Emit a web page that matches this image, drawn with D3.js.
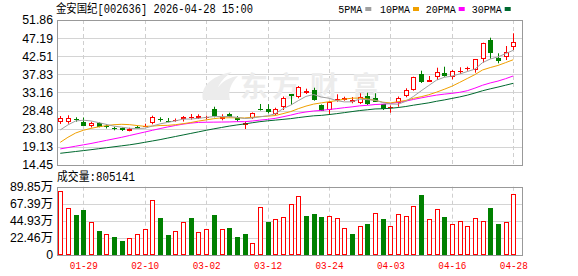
<!DOCTYPE html>
<html><head><meta charset="utf-8">
<script src="https://cdn.jsdelivr.net/npm/d3@7"></script>
<style>body{margin:0;background:#fff}svg{display:block}</style>
</head><body><svg id="c" width="578" height="276"></svg>
<script>
const dates = ["01-26","01-27","01-28","01-29","01-30","02-02","02-03","02-04","02-05","02-06",
"02-09","02-10","02-11","02-12","02-13","02-24","02-25","02-26","02-27","03-02",
"03-03","03-04","03-05","03-06","03-09","03-10","03-11","03-12","03-13","03-16",
"03-17","03-18","03-19","03-20","03-23","03-24","03-25","03-26","03-27","03-30",
"03-31","04-01","04-02","04-03","04-07","04-08","04-09","04-10","04-13","04-14",
"04-15","04-16","04-17","04-20","04-21","04-22","04-23","04-24","04-27","04-28"];
const open = [25.42,25.47,26.32,25.54,24.64,25.16,24.51,24.05,23.87,23.22,24.25,24.38,25.21,26.32,25.72,25.93,26.24,26.71,26.50,26.58,28.82,26.24,27.61,26.65,24.69,26.58,28.90,28.77,27.69,29.34,32.69,31.99,32.95,33.80,29.93,28.64,31.22,31.22,30.70,30.32,32.25,31.61,30.06,29.29,30.45,32.38,33.80,37.85,35.99,37.08,38.26,37.08,38.44,39.30,38.96,41.72,46.70,42.13,42.39,44.97];
const high = [27.09,27.27,26.76,26.71,25.62,25.47,24.95,24.33,24.13,24.07,24.51,25.11,27.17,26.76,26.58,26.45,27.09,27.61,27.53,27.17,29.49,27.53,27.94,27.09,25.62,28.00,30.19,30.14,29.23,32.12,32.77,34.83,34.14,34.39,30.06,30.88,32.69,32.07,31.99,32.95,33.10,32.95,30.19,29.80,32.12,34.24,37.23,38.78,37.41,39.55,39.81,38.96,39.66,39.81,41.80,46.00,47.29,43.27,45.15,48.43];
const low = [25.03,25.11,25.62,24.51,24.13,24.18,23.87,23.40,23.22,23.14,23.82,24.25,24.95,25.62,25.49,25.62,25.67,26.14,26.32,26.24,26.76,25.98,26.76,25.62,23.74,26.32,28.51,27.79,27.27,28.64,29.93,31.66,32.77,31.04,28.38,27.53,30.78,31.04,30.37,30.19,29.93,30.70,28.64,27.94,29.49,31.92,33.62,35.61,35.94,36.38,37.23,36.56,37.93,38.78,38.26,40.84,41.88,40.69,41.54,44.12];
const close = [26.45,26.65,26.14,24.64,25.21,24.33,24.31,23.87,23.40,23.66,24.10,24.64,26.76,26.16,25.57,26.06,26.91,26.83,27.09,26.76,27.17,26.91,26.83,26.06,25.21,27.79,28.56,28.00,28.82,31.66,32.33,34.50,33.46,31.22,28.46,30.78,31.40,31.81,31.30,31.92,30.06,30.78,28.77,29.41,31.66,33.80,37.08,35.94,36.38,38.52,37.41,38.70,38.62,39.48,41.72,45.85,43.27,41.36,43.68,46.11];
// volume in 万 (10k)
const volume = [84.2,61.8,52.6,59.2,43.0,31.6,27.2,23.7,18.4,22.0,27.2,33.8,72.4,48.7,26.3,31.6,43.4,48.7,29.9,34.2,52.6,33.8,35.5,23.7,27.6,15.4,62.7,43.4,47.4,49.6,67.1,77.2,51.3,53.9,50.0,50.9,48.7,35.5,27.6,37.7,40.8,54.8,47.4,37.7,53.5,50.9,64.1,78.9,47.0,60.5,50.0,40.4,44.3,38.1,48.7,44.3,61.8,40.8,43.0,80.51];
const volUp = [1,1,0,0,1,0,1,0,0,1, 1,1,1,0,0,1,1,0,1,1, 0,1,0,0,0,1,1,0,1,1, 1,1,0,0,0,1,1,1,0,1, 0,1,0,1,1,1,1,0,1,1, 0,1,1,1,1,1,0,0,1,1];
const ma5 = [23.5,24.8,25.8,26.0,25.82,25.39,24.93,24.47,24.22,23.91,23.87,23.93,24.51,25.06,25.45,25.84,26.29,26.31,26.49,26.73,26.95,26.95,26.95,26.75,26.44,26.56,26.89,27.12,27.68,28.97,29.87,31.06,32.15,32.63,31.99,31.68,31.06,30.73,30.75,31.44,31.30,31.17,30.57,30.19,30.14,30.88,32.14,33.58,34.97,36.34,37.07,37.39,37.93,38.55,39.19,40.87,41.79,42.34,43.18,44.05];
const ma10 = [20.3,21.6,22.7,23.4,23.9,24.3,24.6,24.85,24.95,24.87,24.63,24.43,24.49,24.64,24.68,24.85,25.11,25.41,25.78,26.09,26.40,26.62,26.63,26.62,26.58,26.76,26.92,27.04,27.21,27.70,28.22,28.98,29.64,30.16,30.48,30.78,31.06,31.44,31.69,31.72,31.49,31.12,30.65,30.47,30.79,31.09,31.66,32.07,32.58,33.24,33.98,34.77,35.75,36.76,37.77,38.97,39.59,40.13,40.86,41.62];
const ma20 = [18.6,18.95,19.3,19.65,20.0,20.4,20.8,21.2,21.6,22.05,22.5,22.95,23.4,23.85,24.27,24.65,24.99,25.25,25.44,25.48,25.51,25.53,25.56,25.63,25.63,25.80,26.02,26.22,26.49,26.89,27.31,27.80,28.13,28.39,28.53,28.77,28.99,29.24,29.45,29.71,29.85,30.05,30.14,30.31,30.63,30.94,31.36,31.76,32.14,32.48,32.73,32.94,33.20,33.61,34.28,35.03,35.62,36.10,36.72,37.43];
const ma30 = [17.47,17.7,17.93,18.16,18.4,18.65,18.9,19.15,19.4,19.65,19.95,20.3,20.65,21.0,21.4,21.8,22.2,22.6,23.0,23.4,23.78,24.13,24.48,24.78,25.04,25.35,25.63,25.85,26.03,26.22,26.41,26.68,26.92,27.14,27.25,27.46,27.70,27.96,28.23,28.50,28.70,28.91,28.97,29.08,29.28,29.54,29.88,30.18,30.49,30.89,31.23,31.62,32.01,32.46,33.01,33.61,34.10,34.55,35.04,35.53];
const priceTicks = [14.45,19.13,23.80,28.48,33.16,37.83,42.51,47.19,51.86];
const volTicks = [0,22.46,44.93,67.39,89.85];
const dateTicks = ["01-29","02-10","03-02","03-12","03-24","04-03","04-16","04-28"];
const maNames = ["5PMA","10PMA","20PMA","30PMA"];
const maColors = ["#a0a0a0","#f0a000","#ff00ff","#00692f"];
const title = "金安国纪[002636] 2026-04-28 15:00";
const volLabel = "成交量:805141";

const svg = d3.select("#c");
const L=57, R=522, PT=20, PB=165, VT=186.7, VB=255;
const RED="#ff0000", GREEN="#008000";

const x = d3.scalePoint().domain(dates).range([60.26, 513.3]);
const yP = d3.scaleLinear().domain([priceTicks[0], priceTicks[priceTicks.length-1]]).range([PB, PT]);
const yV = d3.scaleLinear().domain([0, volTicks[volTicks.length-1]]).range([VB, VT]);
const px = d => Math.round(x(d)) + 0.5;

// grids
function grid(yScale, ticks, top, bot){
  const g = svg.append("g");
  g.selectAll("line.h").data(ticks).join("line")
    .attr("x1",L).attr("x2",R)
    .attr("y1",d=>Math.round(yScale(d))+0.5).attr("y2",d=>Math.round(yScale(d))+0.5)
    .attr("stroke","#d4d4d4").attr("stroke-width",1);
  g.selectAll("line.v").data(dateTicks).join("line")
    .attr("x1",d=>px(d)).attr("x2",d=>px(d)).attr("y1",top).attr("y2",bot)
    .attr("stroke","#cfcfcf").attr("stroke-dasharray","4,3");
}
grid(yP, priceTicks, PT, PB);
grid(yV, volTicks, VT, VB);

// watermark
const wm = svg.append("g").attr("fill","#ececec").attr("font-family","'Noto Sans CJK SC'").attr("font-weight","bold").attr("font-size",28);
wm.append("path").attr("d","M203,100 C200,88 210,76 232,72 C220,80 214,90 218,100 Z M214,100 C214,88 224,78 238,76 C230,84 228,92 230,100 Z");
[["东",240],["方",272],["财",310],["富",352]].forEach(([t,xx])=>wm.append("text").attr("x",xx).attr("y",97).text(t));

// frames
function frame(top, bot){
  svg.append("rect").attr("x",L+0.5).attr("y",Math.round(top)+0.5).attr("width",R-L).attr("height",Math.round(bot)-Math.round(top))
    .attr("fill","none").attr("stroke","#999");
}

// candles
const idx = d3.range(dates.length);
const cg = svg.append("g");
idx.forEach(i=>{
  const up = close[i] >= open[i];
  const col = up ? RED : GREEN;
  const cx = px(dates[i]);
  const yt = yP(Math.max(open[i],close[i])), yb = yP(Math.min(open[i],close[i]));
  const rt = Math.round(yt), rb = Math.max(Math.round(yb), rt+1);
  if(up){
    cg.append("line").attr("x1",cx).attr("x2",cx).attr("y1",yP(high[i])).attr("y2",rt).attr("stroke",col);
    cg.append("line").attr("x1",cx).attr("x2",cx).attr("y1",rb).attr("y2",yP(low[i])).attr("stroke",col);
    cg.append("rect").attr("x",cx-2).attr("y",rt+0.5).attr("width",4).attr("height",Math.max(rb-rt-1,0.01))
      .attr("fill","#fff").attr("stroke",col);
  } else {
    cg.append("line").attr("x1",cx).attr("x2",cx).attr("y1",yP(high[i])).attr("y2",yP(low[i])).attr("stroke",col);
    cg.append("rect").attr("x",cx-2.5).attr("y",rt).attr("width",5).attr("height",Math.max(rb-rt,1)).attr("fill",col);
  }
});

// MA lines
const mas = [ma5, ma10, ma20, ma30];
const line = d3.line().x((d,i)=>x(dates[i])).y(d=>yP(d));
mas.slice().reverse().forEach((m,k)=>{
  const j = 3-k;
  svg.append("path").attr("d",line(m)).attr("fill","none").attr("stroke",maColors[j]).attr("stroke-width",1);
});

// volume bars
const vg = svg.append("g");
idx.forEach(i=>{
  const cx = px(dates[i]);
  const top = Math.round(yV(volume[i]));
  if(volUp[i]){
    vg.append("rect").attr("x",cx-2).attr("y",top+0.5).attr("width",4).attr("height",VB-top-1).attr("fill","#fff").attr("stroke",RED);
  } else {
    vg.append("rect").attr("x",cx-2.5).attr("y",top).attr("width",5).attr("height",VB-top).attr("fill",GREEN);
  }
});

frame(PT, PB);
frame(VT, VB);

// axes
const ax1 = svg.append("g").attr("transform",`translate(${L},0)`)
  .call(d3.axisLeft(yP).tickValues(priceTicks).tickFormat(d3.format(".2f")).tickSize(0).tickPadding(4));
const ax2 = svg.append("g").attr("transform",`translate(${L},0)`)
  .call(d3.axisLeft(yV).tickValues(volTicks).tickFormat(d=>d===0?"0":d.toFixed(2)+"万").tickSize(0).tickPadding(4));
const ax3 = svg.append("g").attr("transform",`translate(0,${VB})`)
  .call(d3.axisBottom(x).tickValues(dateTicks).tickSize(0).tickPadding(7));
[ax1,ax2,ax3].forEach(a=>{a.select(".domain").remove(); a.selectAll("text").attr("fill","#000");});
[ax1,ax2].forEach(a=>a.selectAll("text").attr("font-family","'Liberation Sans','Noto Sans CJK SC'").attr("font-size",12.3));
ax3.selectAll("text").attr("font-family","'Liberation Mono'").attr("font-size",10).attr("fill",RED).attr("textLength",28).attr("lengthAdjust","spacingAndGlyphs");

// title
svg.append("text").attr("x",56).attr("y",9.5).attr("dominant-baseline","central")
  .attr("font-family","'Liberation Mono','Noto Sans CJK SC'").attr("font-size",12).attr("fill","#000")
  .attr("textLength",197).attr("lengthAdjust","spacingAndGlyphs").text(title);
svg.append("text").attr("x",57).attr("y",177.5).attr("dominant-baseline","central")
  .attr("font-family","'Liberation Mono','Noto Sans CJK SC'").attr("font-size",12).attr("fill","#000")
  .attr("textLength",78).attr("lengthAdjust","spacingAndGlyphs").text(volLabel);

// legend
const legX = [338.3, 380, 425.7, 471.7];
const legW = [24, 30, 30, 30];
maNames.forEach((n,i)=>{
  svg.append("text").attr("x",legX[i]).attr("y",9.5).attr("dominant-baseline","central")
    .attr("font-family","'Liberation Mono'").attr("font-size",11.5).attr("fill","#000")
    .attr("textLength",legW[i]).attr("lengthAdjust","spacingAndGlyphs").text(n);
  svg.append("rect").attr("x",legX[i]+legW[i]+3).attr("y",7).attr("width",6).attr("height",4).attr("fill",maColors[i]);
});
</script></body></html>
